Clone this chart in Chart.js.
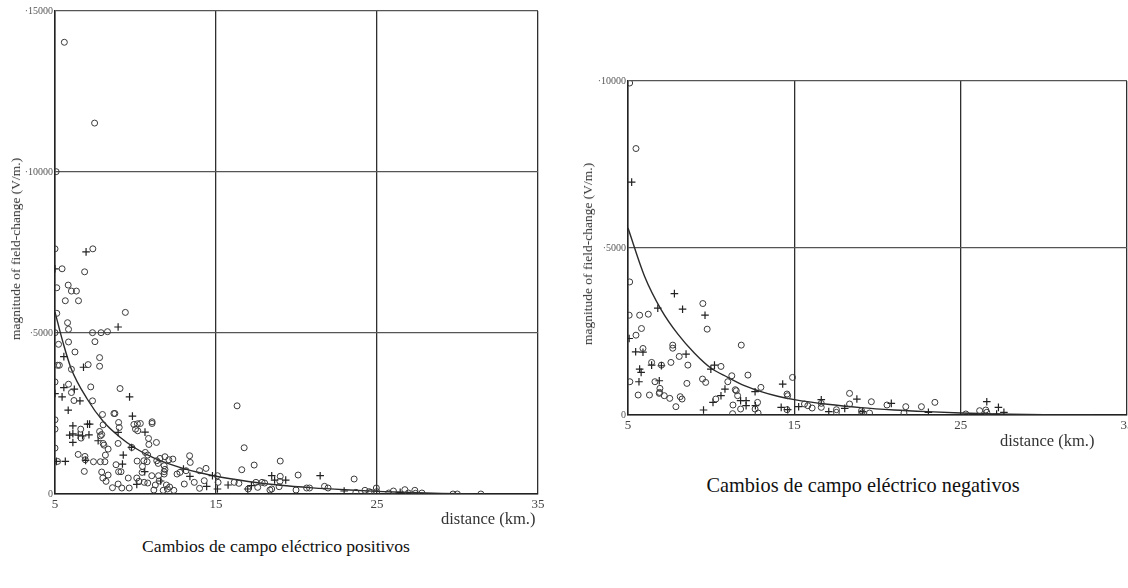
<!DOCTYPE html>
<html>
<head>
<meta charset="utf-8">
<script src="https://cdn.jsdelivr.net/npm/chart.js@4/dist/chart.umd.min.js"></script>
<style>
  html, body { margin: 0; padding: 0; background: #fff; overflow: hidden; width: 1128px; height: 588px; }
  canvas { position: absolute; }
  .txt { position: absolute; font-family: 'Liberation Serif', 'Times New Roman', serif; color: #333; white-space: nowrap; }
  .ytitle { transform: translate(-50%, -50%) rotate(-90deg); font-size: 13.5px; }
  .xtitle { transform: translateY(-50%); font-size: 16.5px; }
  .caption { transform: translate(-50%, -50%); color: #111; }
</style>
</head>
<body>
<canvas id="posChart" width="560" height="520" style="left:0;top:0"></canvas>
<canvas id="negChart" width="600" height="400" style="left:560px;top:60px"></canvas>

<div class="txt ytitle" style="left:16px;top:249px">magnitude of field-change (V/m.)</div>
<div class="txt xtitle" style="left:441px;top:519px">distance (km.)</div>
<div class="txt caption" style="left:276px;top:546px;font-size:17.6px">Cambios de campo eléctrico positivos</div>

<div class="txt ytitle" style="left:588px;top:254px">magnitude of field-change (V/m.)</div>
<div class="txt xtitle" style="left:1000px;top:441px">distance (km.)</div>
<div class="txt caption" style="left:863px;top:485px;font-size:20.3px">Cambios de campo eléctrico negativos</div>

<script>
// ejes compartidos
const xTicks = [5, 15, 25, 35];
const posYTicks = [0, 5000, 10000, 15000];
const posYLabels = ['0', '·5000', '·10000', '·15000'];
const negYTicks = [0, 5000, 10000];
const negYLabels = ['0', '·5000', '·10000'];

// cambios positivos: [km, V/m]
const posCircles = [
  [5.58,14029],[7.46,11519],[5.07,10010],[5.0,7614],[7.35,7614],[5.44,6994],[6.84,6900],[5.11,6405],
  [5.82,6488],[6.02,6302],[6.33,6302],[5.64,6002],[6.46,6002],[9.37,5640],[5.11,5610],[5.78,5320],
  [5.84,5114],[5.0,5010],[7.33,5010],[7.86,5010],[8.26,5041],[5.84,4721],[5.22,4649],[7.48,4731],
  [6.24,4411],[7.77,4236],[5.16,3998],[5.27,3998],[6.02,3874],[7.06,4018],[7.77,3967],[5.0,3481],
  [5.84,3409],[9.04,3275],[7.22,3326],[6.02,3151],[6.18,2903],[7.33,2893],[16.31,2738],[7.95,2469],
  [8.66,2500],[8.72,2500],[5.0,2304],[7.99,2149],[8.95,2221],[9.9,2159],[10.12,2180],[10.3,2190],
  [11.03,2242],[11.03,2190],[6.6,2014],[5.0,2014],[8.99,2066],[10.0,2014],[10.14,1963],[7.77,1942],
  [6.62,1736],[7.82,1808],[7.9,1849],[10.81,1725],[7.99,1570],[8.04,1518],[8.92,1570],[11.3,1601],
  [9.77,1446],[10.83,1539],[5.0,1426],[8.3,1395],[8.13,1209],[6.44,1229],[6.86,1167],[10.61,1291],
  [10.76,1209],[16.75,1436],[18.99,1023],[17.37,899],[16.6,754],[5.16,1012],[6.88,1064],[7.39,1002],
  [7.82,1002],[8.1,1002],[8.79,909],[8.95,692],[9.1,692],[10.1,1023],[10.52,1033],[10.43,857],
  [10.72,1002],[10.41,671],[11.32,1033],[11.52,1105],[11.41,950],[11.83,1157],[12.07,1064],[12.32,1085],
  [11.78,878],[11.83,764],[11.78,692],[13.36,1188],[13.4,981],[6.82,702],[7.9,682],[8.3,589],
  [7.97,496],[8.17,393],[8.57,196],[8.92,310],[9.15,186],[9.55,496],[9.61,186],[10.08,496],
  [10.21,393],[10.54,362],[10.76,341],[11.01,568],[11.14,124],[11.23,279],[11.43,568],[11.47,403],
  [11.78,620],[11.72,114],[11.92,279],[11.98,155],[12.12,217],[12.38,114],[12.58,620],[12.76,671],
  [13.03,310],[13.14,723],[13.65,362],[13.98,723],[14.38,795],[13.98,176],[14.27,413],[15.09,568],
  [15.13,362],[16.13,362],[16.42,331],[17.0,155],[17.48,362],[17.59,207],[17.86,362],[18.02,341],
  [18.99,548],[18.97,393],[18.46,155],[18.92,227],[18.35,124],[20.1,589],[19.97,124],[20.63,186],
  [20.81,186],[21.74,238],[21.96,186],[23.58,465],[23.69,52],[24.25,114],[24.51,72],[24.62,52],
  [24.96,186],[24.98,72],[25.73,31],[26.02,93],[26.73,134],[26.95,31],[27.35,114],[27.39,21],
  [27.79,31],[29.72,0],[29.99,0],[31.45,0]
];
const posCrosses = [
  [6.93,7520],[5.0,6994],[8.92,5186],[5.55,4267],[6.77,3936],[5.55,3306],[6.2,3254],[5.44,3017],
  [9.63,3017],[5.0,3120],[6.55,2893],[5.82,2603],[9.81,2417],[6.11,2118],[7.02,2169],[7.15,2169],
  [10.59,1921],[5.91,1828],[6.11,1870],[6.44,1828],[6.71,1808],[7.11,1839],[8.92,1911],[7.68,1653],
  [6.11,1601],[9.75,1446],[9.24,1209],[5.64,1012],[5.09,1012],[6.9,1044],[9.19,930],[10.57,692],
  [10.08,300],[11.56,403],[12.98,775],[13.38,548],[14.42,238],[14.78,568],[15.09,155],[15.75,279],
  [16.97,155],[17.2,258],[18.46,568],[18.64,434],[19.33,434],[21.47,568],[22.96,93],[26.44,52]
];
const posCurveX = [5, 5.5, 6, 7, 8, 9, 10, 11, 12, 13, 14, 15, 17, 19, 21, 23, 25, 27, 29, 31];
const posCurveY = [5650, 4700, 3900, 2950, 2250, 1780, 1420, 1150, 950, 790, 660, 550, 390, 270, 190, 130, 80, 45, 20, 5];

// cambios negativos: [km, V/m]
const negCircles = [
  [5.1,9940],[5.48,7978],[5.1,3984],[9.5,3337],[5.07,2988],[5.7,2988],[6.22,3018],[5.81,2590],
  [5.48,2390],[9.76,2570],[11.81,2092],[7.69,2092],[7.69,2000],[5.9,1992],[8.08,1753],[6.42,1574],
  [7.58,1574],[8.6,1494],[7.01,1494],[10.59,1454],[11.24,1175],[12.21,1195],[5.11,996],[6.62,996],
  [9.48,1076],[9.67,976],[11.0,996],[8.54,946],[14.89,1125],[12.99,827],[6.92,797],[6.9,677],
  [6.88,647],[5.61,598],[6.29,598],[7.18,578],[7.51,498],[8.14,548],[8.25,478],[7.88,249],
  [11.51,727],[11.45,757],[11.59,578],[10.28,478],[11.31,299],[11.77,179],[11.29,40],[12.79,378],
  [12.64,179],[12.82,60],[14.56,627],[14.6,577],[14.56,159],[15.61,329],[15.81,279],[16.07,209],
  [16.62,349],[16.62,229],[17.53,159],[17.53,80],[18.32,647],[18.32,329],[19.04,130],[19.06,60],
  [19.52,60],[19.63,398],[20.57,299],[21.7,249],[21.59,60],[22.64,249],[23.45,378],[25.31,30],
  [26.14,129],[26.51,149],[26.57,80]
];
const negCrosses = [
  [5.22,6972],[7.79,3635],[6.79,3197],[8.28,3167],[9.63,2988],[5.07,2291],[5.9,1880],[5.46,1892],
  [8.49,1823],[6.42,1494],[7.01,1474],[10.2,1494],[9.98,1375],[5.7,1375],[5.79,1275],[5.66,996],
  [6.88,1026],[14.3,926],[10.83,777],[10.59,578],[10.11,378],[11.77,428],[12.1,428],[12.1,279],
  [12.64,697],[12.66,279],[9.54,149],[14.21,229],[14.6,159],[15.26,249],[16.62,458],[17.07,100],
  [18.03,199],[18.76,478],[19.1,100],[20.83,349],[23.06,80],[26.57,398],[27.16,30],[27.27,229],
  [27.6,80]
];
const negCurveX = [5, 6, 7, 8, 9, 10, 11, 12, 13, 14, 15, 17, 19, 21, 23, 25, 27, 29, 31, 33];
const negCurveY = [5600, 4150, 3150, 2420, 1850, 1400, 1130, 880, 700, 560, 460, 320, 220, 150, 100, 60, 35, 15, 5, 0];

const ink = '#3a3a3a';
const serif = "'Liberation Serif', 'Times New Roman', serif";

function toPoints(list) { return list.map(p => ({ x: p[0], y: p[1] })); }

function makeChart(id, opts) {
  const ctx = document.getElementById(id).getContext('2d');
  return new Chart(ctx, {
    type: 'scatter',
    data: {
      datasets: [
        {
          label: 'o',
          data: toPoints(opts.circles),
          pointStyle: 'circle',
          pointRadius: 3,
          pointBorderWidth: 1,
          pointBorderColor: ink,
          pointBackgroundColor: 'rgba(255,255,255,0)'
        },
        {
          label: '+',
          data: toPoints(opts.crosses),
          pointStyle: 'cross',
          pointRadius: 3.8,
          pointBorderWidth: 1.2,
          pointBorderColor: '#222'
        },
        {
          label: 'curva',
          data: opts.curveX.map((x, i) => ({ x: x, y: opts.curveY[i] })),
          showLine: true,
          borderColor: '#2a2a2a',
          borderWidth: 1.4,
          pointRadius: 0,
          cubicInterpolationMode: 'monotone',
          fill: false
        }
      ]
    },
    options: {
      responsive: false,
      animation: false,
      devicePixelRatio: 1,
      layout: { padding: opts.padding },
      plugins: { legend: { display: false }, tooltip: { enabled: false } },
      scales: {
        x: {
          type: 'linear',
          min: 5, max: 35,
          afterBuildTicks: s => { s.ticks = xTicks.map(v => ({ value: v })); },
          afterFit: s => { s.height = opts.xHeight; },
          grid: { color: '#2f2f2f', lineWidth: 1.3, drawTicks: false },
          border: { color: '#222', width: 1.5 },
          ticks: { padding: 3, color: '#444', font: { family: serif, size: 13 } }
        },
        y: {
          type: 'linear',
          min: 0, max: opts.yTicks[opts.yTicks.length - 1],
          afterBuildTicks: s => { s.ticks = opts.yTicks.map(v => ({ value: v })); },
          afterFit: s => { s.width = opts.yWidth; },
          grid: { color: '#555', lineWidth: 1.2, drawTicks: false },
          border: { color: '#222', width: 1.5 },
          ticks: {
            padding: 2, color: '#555', font: { family: serif, size: 10 },
            callback: v => opts.yLabels[opts.yTicks.indexOf(v)]
          }
        }
      }
    }
  });
}

makeChart('posChart', {
  circles: posCircles, crosses: posCrosses, curveX: posCurveX, curveY: posCurveY,
  yTicks: posYTicks, yLabels: posYLabels,
  padding: { left: 0, top: 11, right: 22, bottom: 0 },
  xHeight: 26, yWidth: 55
});

makeChart('negChart', {
  circles: negCircles, crosses: negCrosses, curveX: negCurveX, curveY: negCurveY,
  yTicks: negYTicks, yLabels: negYLabels,
  padding: { left: 0, top: 21, right: 33, bottom: 0 },
  xHeight: 45, yWidth: 68
});
</script>
</body>
</html>
